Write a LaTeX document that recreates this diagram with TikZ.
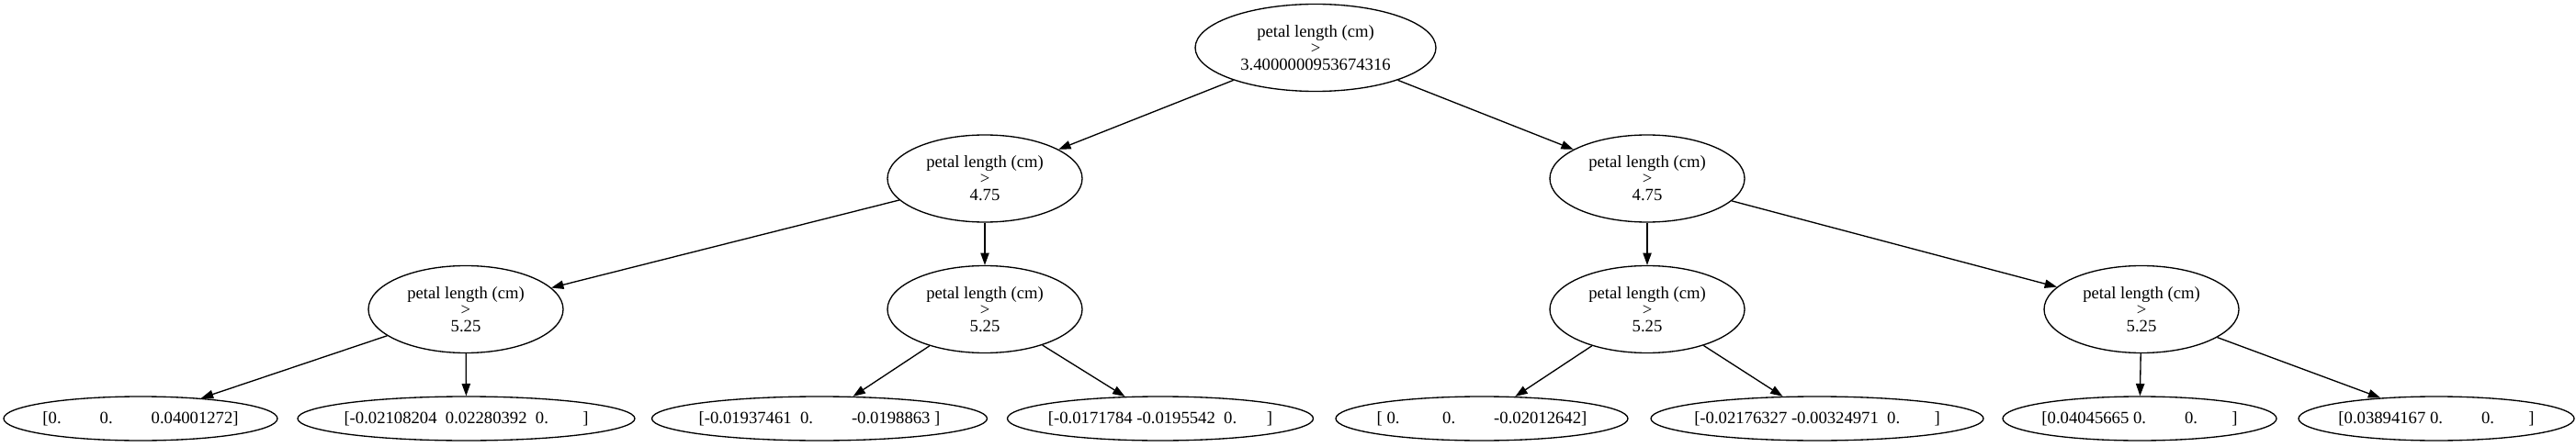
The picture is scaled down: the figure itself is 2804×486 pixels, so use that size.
\documentclass[tikz,border=0pt]{standalone}
\usepackage{fontspec}
\setmainfont{Liberation Serif}
\usetikzlibrary{shapes.geometric,arrows.meta}

\begin{document}
\begin{tikzpicture}[x=0.75pt, y=0.75pt, line width=1pt,
        >={Triangle[length=10pt,width=7pt]},
        split/.style={ellipse, draw, align=center, inner sep=0pt,
            minimum width=159pt, minimum height=71.25pt,
            font=\fontsize{14}{13.5}\selectfont},
        leaf/.style={ellipse, draw, inner xsep=-6pt, inner ysep=0pt,
            minimum height=36pt, font=\fontsize{14}{16}\selectfont}]
        \useasboundingbox (0,0) rectangle (2804,486);

        % Define split nodes
        \node[split, minimum width=196.5pt] (root) at (1432,434) {petal length (cm)\\>\\3.4000000953674316};
        \node[split] (l) at (1072,291.5) {petal length (cm)\\>\\4.75};
        \node[split] (r) at (1793,291.5) {petal length (cm)\\>\\4.75};
        \node[split] (ll) at (507,149) {petal length (cm)\\>\\5.25};
        \node[split] (lr) at (1072,149) {petal length (cm)\\>\\5.25};
        \node[split] (rl) at (1793,149) {petal length (cm)\\>\\5.25};
        \node[split] (rr) at (2331,149) {petal length (cm)\\>\\5.25};

        % Define leaf nodes
        \node[leaf, minimum width=223.5pt] (lll) at (153,30) {[0.~~~~~~~~~0.~~~~~~~~~0.04001272]};
        \node[leaf, minimum width=275.25pt] (llr) at (507.5,30) {[-0.02108204~~0.02280392~~0.~~~~~~~~]};
        \node[leaf, minimum width=273.75pt] (lrl) at (892,30) {[-0.01937461~~0.~~~~~~~~~-0.0198863~]};
        \node[leaf, minimum width=249.75pt] (lrr) at (1263,30) {[-0.0171784~-0.0195542~~0.~~~~~~~]};
        \node[leaf, minimum width=238.5pt] (rll) at (1613,30) {[~0.~~~~~~~~~~0.~~~~~~~~~-0.02012642]};
        \node[leaf, minimum width=271.5pt] (rlr) at (1978,30) {[-0.02176327~-0.00324971~~0.~~~~~~~~]};
        \node[leaf, minimum width=223.5pt] (rrl) at (2329,30) {[0.04045665~0.~~~~~~~~~0.~~~~~~~~]};
        \node[leaf, minimum width=225pt] (rrr) at (2652,30) {[0.03894167~0.~~~~~~~~~0.~~~~~~~~]};

        % Draw edges
        \draw[->] (root) -- (l);
        \draw[->] (root) -- (r);
        \draw[->] (l) -- (ll);
        \draw[->] (l) -- (lr);
        \draw[->] (r) -- (rl);
        \draw[->] (r) -- (rr);
        \draw[->] (ll) -- (lll);
        \draw[->] (ll) -- (llr);
        \draw[->] (lr) -- (lrl);
        \draw[->] (lr) -- (lrr);
        \draw[->] (rl) -- (rll);
        \draw[->] (rl) -- (rlr);
        \draw[->] (rr) -- (rrl);
        \draw[->] (rr) -- (rrr);
    \end{tikzpicture}
\end{document}
